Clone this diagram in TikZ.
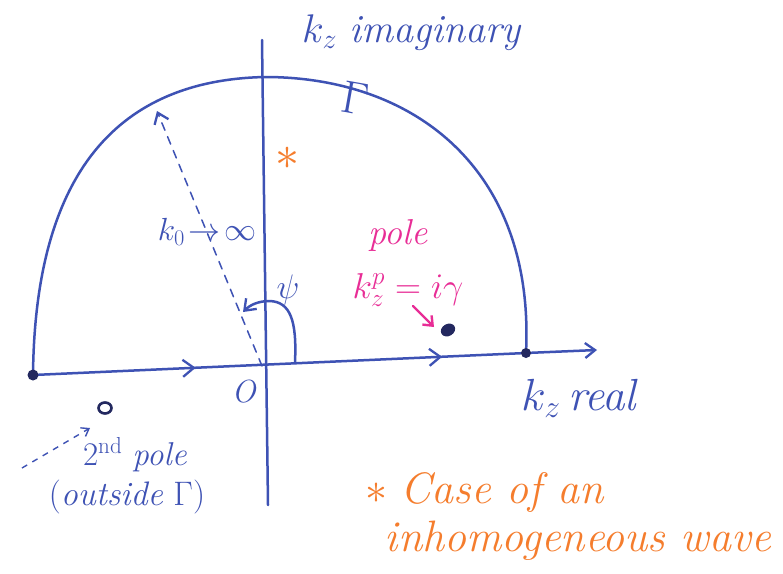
\RequirePackage{fix-cm}
\documentclass[tikz,border=0pt]{standalone}
\usetikzlibrary{arrows.meta,decorations.markings}
\definecolor{penblue}{RGB}{62,82,180}
\definecolor{inkdark}{RGB}{35,40,95}
\definecolor{magentaink}{RGB}{232,45,150}
\definecolor{orangeink}{RGB}{245,125,45}
\begin{document}
\begin{tikzpicture}[x=1pt,y=-1pt,
  pen/.style={draw=penblue,line width=2.5pt,line cap=round,line join=round},
  barb/.style={-{Straight Barb[length=10pt,width=15pt,line width=2.3pt]}},
  bluetext/.style={text=penblue,inner sep=0pt},
  pinktext/.style={text=magentaink,inner sep=0pt},
  orangetext/.style={text=orangeink,inner sep=0pt},
  midarrows/.style={postaction={decorate},decoration={markings,
     mark=at position 0.33 with {\arrow{Straight Barb[length=11pt,width=17pt,line width=2.3pt]}},
     mark=at position 0.83 with {\arrow{Straight Barb[length=11pt,width=17pt,line width=2.3pt]}}}}]
\useasboundingbox (0,0) rectangle (783,573);
\fill[white] (0,0) rectangle (783,573);
% key points
\coordinate (L) at (33,375);
\coordinate (R) at (526,353);
\coordinate (Xend) at (597,350);
\coordinate (Top) at (265,77);
\coordinate (Ytop) at (262,40);
\coordinate (Ybot) at (268,505);
\coordinate (Orig) at (262,366);
\coordinate (Rad) at (157,111);
\coordinate (PsiA) at (295,362);
\coordinate (PsiB) at (243,312);
\coordinate (PoleP) at (448,330);
\coordinate (Pole2) at (105,408);
\coordinate (PA1) at (413,306);
\coordinate (PA2) at (434,327);
\coordinate (DA1) at (22,468);
\coordinate (DA2) at (90,428);
% axes
\draw[pen,midarrows] (L) -- (R);
\draw[pen,barb] (R) -- (Xend);
\draw[pen] (Ytop) -- (Ybot);
% contour arc
\draw[pen] (L) .. controls (35,170) and (120,80) .. (Top)
               .. controls (415,77) and (535,170) .. (R);
\node[bluetext,font=\fontsize{46}{46}\selectfont,rotate=-10] (gam) at (355,98) {$\Gamma$};
% radius
\draw[pen,line width=1.5pt,dash pattern=on 8pt off 7pt,barb] (Orig) -- (Rad);
% psi angle
\draw[pen,barb] (PsiA) .. controls (297,320) and (290,302) .. (270,301)
                .. controls (258,301) and (250,305) .. (PsiB);
% dots
\fill[inkdark] (L) circle (5.5);
\fill[inkdark] (R) circle (5);
\fill[inkdark,rotate around={30:(PoleP)}] (PoleP) ellipse (7.5 and 6);
\draw[inkdark,line width=2.6pt] (Pole2) ellipse (6.5 and 5.5);
% labels
\node[bluetext,font=\fontsize{40}{40}\selectfont] (kzim) at (412,33) {$k_z$ \textit{imaginary}};
\node[bluetext,font=\fontsize{45}{45}\selectfont] (kzre) at (580,398) {$k_z$\,\textit{real}};
\node[bluetext,font=\fontsize{32}{32}\selectfont] (kinf) at (207,232) {$k_0\!\to\!\infty$};
\node[bluetext,font=\fontsize{34}{34}\selectfont] (psi) at (288,290) {$\psi$};
\node[bluetext,font=\fontsize{32}{32}\selectfont] (Olbl) at (244,392) {\textit{O}};
\node[bluetext,font=\fontsize{33}{33}\selectfont] (second) at (135,455) {2\textsuperscript{nd} \textit{pole}};
\node[bluetext,font=\fontsize{34}{34}\selectfont] (outside) at (127,497) {(\textit{outside} $\Gamma$)};
\node[pinktext,font=\fontsize{36}{36}\selectfont] (pole) at (398,235) {\textit{pole}};
\node[pinktext,font=\fontsize{36}{36}\selectfont] (kzp) at (408,290) {$k_z^p = i\gamma$};
\node[orangetext,font=\fontsize{48}{48}\selectfont] (star) at (287,158) {$\ast$};
\node[orangetext,font=\fontsize{44}{44}\selectfont] (case) at (485,492) {$\ast$ \textit{Case of an}};
\node[orangetext,font=\fontsize{44}{44}\selectfont] (inhom) at (578,541) {\textit{inhomogeneous wave}};
% small arrows
\draw[magentaink,line width=2.4pt,line cap=round,-{Straight Barb[length=8pt,width=13pt,line width=2.4pt]}]
   (PA1) -- (PA2);
\draw[penblue,line width=1.4pt,dash pattern=on 6pt off 6pt,-{Straight Barb[length=7pt,width=10pt,line width=1.4pt]}]
   (DA1) -- (DA2);
\end{tikzpicture}
\end{document}
